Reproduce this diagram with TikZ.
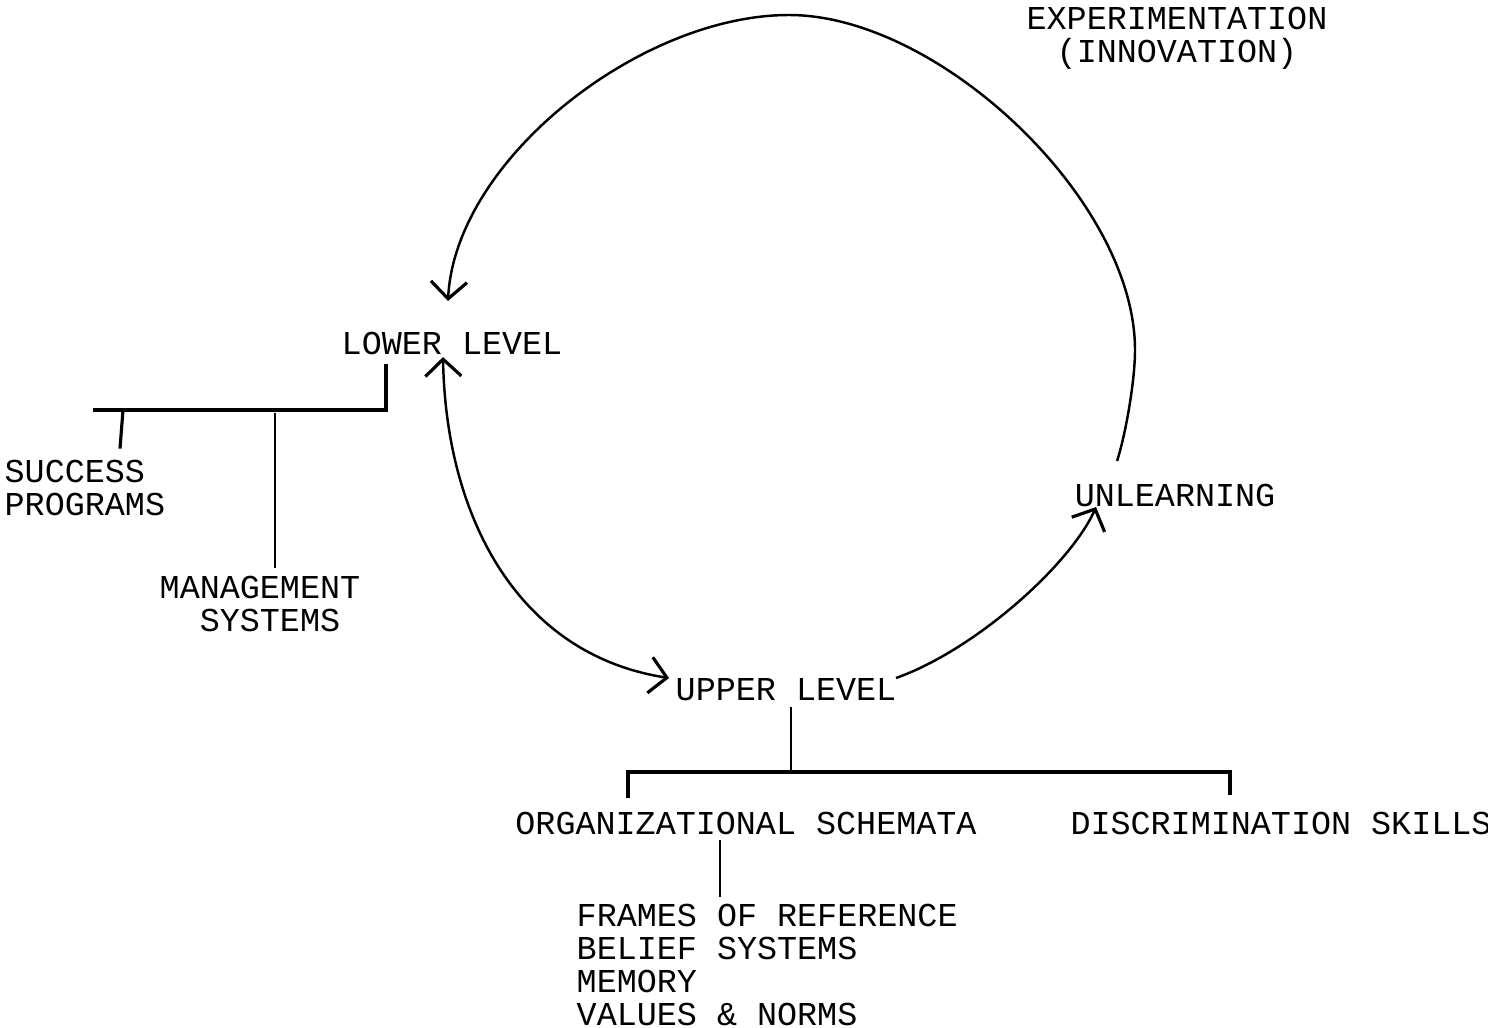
\documentclass[tikz,border=0pt]{standalone}
\usepackage{fontspec}
\newfontfamily\typewriter{Liberation Mono}
\usetikzlibrary{arrows.meta,calc}

\begin{document}
\begin{tikzpicture}[x = 0.01cm, y = -0.01cm,
	typed/.style = {font = \typewriter\fontsize{9.5}{9.3}\selectfont, inner sep = 0pt},
	loop/.style = {line width = 0.7pt},
	bar/.style = {line width = 0.9pt},
	twig/.style = {line width = 0.5pt},
	> = {Straight Barb[length = 1.7mm, width = 3.6mm, line width = 0.9pt]}]
	\useasboundingbox (0,0) rectangle (1488,1027);

	% the levels
	\node [typed, align = center] (exper) at (1177,38) {EXPERIMENTATION\\(INNOVATION)};
	\node [typed] (lower) at (452,343) {LOWER LEVEL};
	\node [typed] (unlearn) at (1175,495) {UNLEARNING};
	\node [typed] (upper) at (786,690) {UPPER LEVEL};

	% what hangs under them
	\node [typed, align = left, anchor = west] (success) at (4,488) {SUCCESS\\PROGRAMS};
	\node [typed, align = left, anchor = west] (manage) at (159,604) {MANAGEMENT\\\phantom{MA}SYSTEMS};
	\node [typed] (schema) at (746,823) {ORGANIZATIONAL SCHEMATA};
	\node [typed] (discrim) at (1281,823) {DISCRIMINATION SKILLS};
	\node [typed, align = left, anchor = west] (frames) at (576,965) {FRAMES OF REFERENCE\\BELIEF SYSTEMS\\MEMORY\\VALUES \& NORMS};

	% unlearning all the way round to the lower level
	\coordinate (loopR) at (1135,350);
	\coordinate (loopT) at (789,15);
	\draw [loop, ->] ($(unlearn.north west)+(43,-22)$) .. controls (1126,433) and (1135,380) .. (loopR)
		.. controls (1135,200) and (939,15) .. (loopT)
		.. controls (640,15) and (455,160) .. ($(lower.north)+(-4,-30)$);
	\draw [loop, <->] ($(lower.south)+(-9,2)$) .. controls (446,520) and (520,655) .. ($(upper.west)+(-6,-12)$);
	\draw [loop, ->] ($(upper.east)+(-1,-12)$) .. controls (975,650) and (1070,565) .. ($(unlearn.south west)+(22,0)$);

	% lower level bracket
	\coordinate (lowR) at (386,410);
	\coordinate (lowL) at (93,410);
	\coordinate (suJ) at (123,410);
	\coordinate (mgJ) at (275,410);
	\draw [bar] ($(lower.south -| lowR)+(0,9)$) -- (lowR) -- (lowL);
	\draw [bar] (suJ) -- ($(success.north -| suJ)+(-3,-11)$);
	\draw [twig] ($(mgJ)+(0,3)$) -- ($(manage.north -| mgJ)+(0,-8)$);

	% upper level bracket
	\coordinate (upJ) at (791,772);
	\coordinate (upL) at (628,772);
	\coordinate (upR) at (1230,772);
	\coordinate (orgJ) at (720,0);
	\draw [twig] ($(upper.south -| upJ)+(0,5)$) -- (upJ);
	\draw [bar] ($(upL |- schema.north)+(0,-13)$) -- (upL) -- (upR) -- ($(upR |- discrim.north)+(0,-16)$);
	\draw [twig] ($(schema.south -| orgJ)+(0,5)$) -- ($(frames.north -| orgJ)+(0,-7)$);
\end{tikzpicture}
\end{document}
